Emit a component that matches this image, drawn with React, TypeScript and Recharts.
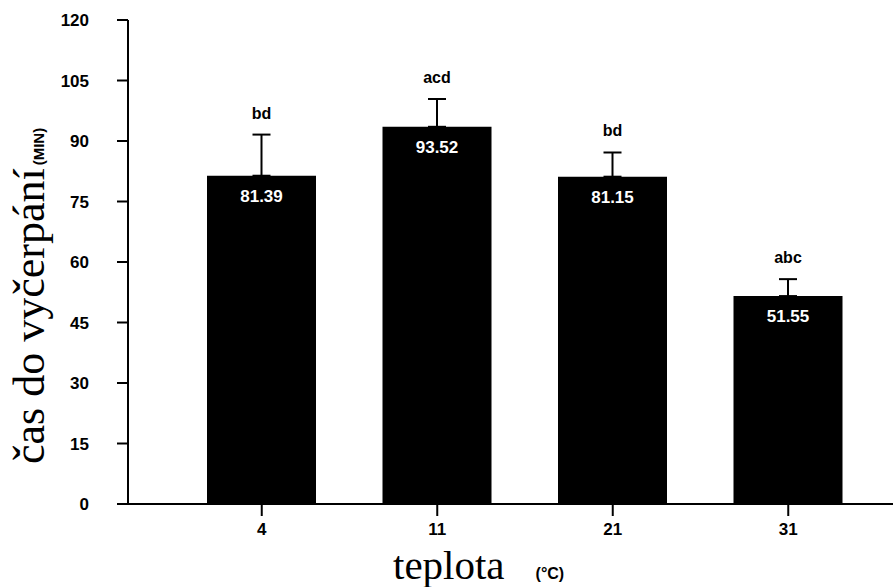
import React from "react"
import { Bar, BarChart, XAxis, YAxis, ErrorBar, LabelList } from "recharts"

const temps = ["4", "11", "21", "31"]
const means = [81.39, 93.52, 81.15, 51.55]
const errs = [10.2, 6.9, 6.0, 4.2]
const letters = ["bd", "acd", "bd", "abc"]
const yTicks = [0, 15, 30, 45, 60, 75, 90, 105, 120]

const data = temps.map((t, i) => ({
  temp: t,
  mean: means[i],
  errRange: [0, errs[i]],
  idx: i,
}))

const sans = "'Liberation Sans', Arial, sans-serif"
const serif = "'Liberation Serif', 'Times New Roman', serif"

function YLabel(props: any) {
  const vb = props.viewBox
  const x = vb.x + 44
  const y = vb.y + vb.height - 40
  return (
    <text x={x} y={y} transform={`rotate(-90, ${x}, ${y})`} textAnchor="start" fill="#000">
      <tspan fontFamily={serif} fontSize={44}>čas do vyčerpání</tspan>
      <tspan fontFamily={sans} fontSize={15} fontWeight="bold" dx={3}>(MIN)</tspan>
    </text>
  )
}

function XLabel(props: any) {
  const vb = props.viewBox
  const x = vb.x + 265
  const y = vb.y + 75
  return (
    <text x={x} y={y} textAnchor="start" fill="#000">
      <tspan fontFamily={serif} fontSize={41}>teplota</tspan>
      <tspan fontFamily={sans} fontSize={16} fontWeight="bold" dx={31}>(°C)</tspan>
    </text>
  )
}

function LetterLabel(props: any) {
  const vb = props.viewBox || props
  const i = Number(props.value)
  // put the letters just above the error bar cap
  const errPx = (errs[i] * vb.height) / means[i]
  return (
    <text
      x={vb.x + vb.width / 2}
      y={vb.y - errPx - 16}
      textAnchor="middle"
      fontFamily={sans}
      fontSize={16}
      fontWeight="bold"
      fill="#000"
    >
      {letters[i]}
    </text>
  )
}

export default function App() {
  return (
    <div style={{ position: "absolute", left: 0, top: 0, background: "#fff" }}>
      <BarChart
        width={893}
        height={587}
        data={data}
        margin={{ top: 20, right: 0, bottom: 0, left: 0 }}
      >
        <XAxis
          dataKey="temp"
          height={83}
          padding={{ left: 46, right: 17 }}
          stroke="#000"
          strokeWidth={2}
          tickSize={12}
          tickMargin={7}
          tick={{ fill: "#000", fontFamily: sans, fontSize: 17, fontWeight: "bold" }}
          label={(p: any) => <XLabel {...p} />}
        />
        <YAxis
          width={128}
          domain={[0, 120]}
          ticks={yTicks}
          interval={0}
          stroke="#000"
          strokeWidth={2}
          tickSize={11}
          tickMargin={28}
          tick={{ fill: "#000", fontFamily: sans, fontSize: 17, fontWeight: "bold" }}
          label={(p: any) => <YLabel {...p} />}
        />
        <Bar dataKey="mean" fill="#000" barSize={109} isAnimationActive={false}>
          <ErrorBar
            dataKey="errRange"
            direction="y"
            width={9}
            stroke="#000"
            strokeWidth={2}
            isAnimationActive={false}
          />
          <LabelList
            dataKey="mean"
            position="insideTop"
            offset={14}
            fill="#fff"
            fontFamily={sans}
            fontSize={17}
            fontWeight="bold"
            formatter={(v: any) => Number(v).toFixed(2)}
          />
          <LabelList dataKey="idx" content={(p: any) => <LetterLabel {...p} />} />
        </Bar>
      </BarChart>
    </div>
  )
}
